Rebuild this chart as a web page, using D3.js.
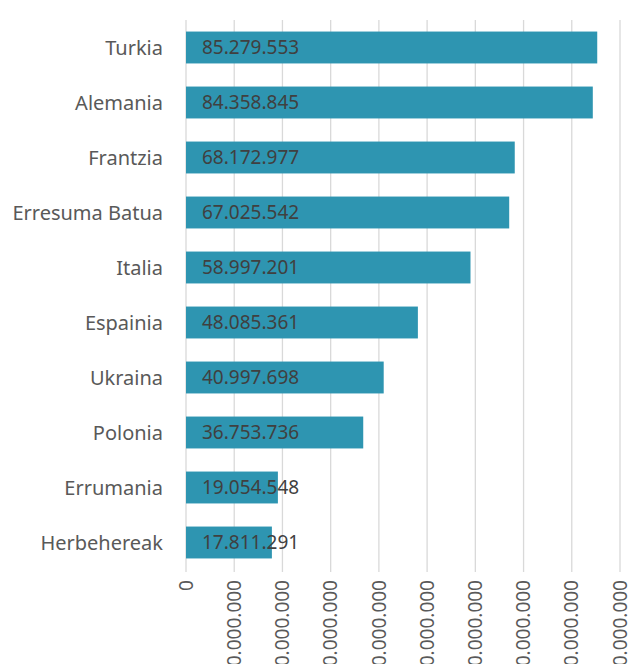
<!DOCTYPE html>
<html><head><meta charset="utf-8">
<script src="https://cdn.jsdelivr.net/npm/d3@7"></script>
<style>body{margin:0;background:#fff;overflow:hidden}</style>
</head><body>
<svg id="c" width="632" height="664"></svg>
<script>
const categories = ["Turkia","Alemania","Frantzia","Erresuma Batua","Italia","Espainia","Ukraina","Polonia","Errumania","Herbehereak"];
const values = [85279553,84358845,68172977,67025542,58997201,48085361,40997698,36753736,19054548,17811291];
const tickValues = [0,10000000,20000000,30000000,40000000,50000000,60000000,70000000,80000000,90000000];

const svg = d3.select("#c");
const font = "'Noto Sans', sans-serif";
const x = d3.scaleLinear().domain([0, 90000000]).range([186, 620]);
const y = d3.scaleBand().domain(categories).range([20, 570]).paddingInner(0.42).paddingOuter(0.21);
const fmt = v => d3.format(",")(v).replace(/,/g, ".");

svg.append("g").selectAll("line").data(tickValues).join("line")
  .attr("x1", d => x(d)).attr("x2", d => x(d))
  .attr("y1", 20).attr("y2", 572)
  .attr("stroke", "#d9d9d9").attr("stroke-width", 1.3);

svg.append("g").selectAll("rect").data(values).join("rect")
  .attr("x", x(0)).attr("y", (d, i) => y(categories[i]))
  .attr("width", d => x(d) - x(0)).attr("height", y.bandwidth())
  .attr("fill", "#2e95b1");

svg.append("g").selectAll("text").data(categories).join("text")
  .attr("x", 163).attr("y", d => y(d) + y.bandwidth() / 2)
  .attr("dy", "0.35em").attr("text-anchor", "end")
  .attr("font-family", font).attr("font-size", 20).attr("fill", "#595959")
  .text(d => d);

svg.append("g").selectAll("text").data(values).join("text")
  .attr("x", x(0) + 16).attr("y", (d, i) => y(categories[i]) + y.bandwidth() / 2)
  .attr("dy", "0.35em")
  .attr("font-family", font).attr("font-size", 19).attr("fill", "#404040")
  .text(d => fmt(d));

svg.append("g").selectAll("text").data(tickValues).join("text")
  .attr("transform", d => `translate(${x(d)},580) rotate(-90)`)
  .attr("dy", "0.35em").attr("text-anchor", "end")
  .attr("font-family", font).attr("font-size", 19).attr("fill", "#595959")
  .text(d => fmt(d));
</script>
</body></html>
